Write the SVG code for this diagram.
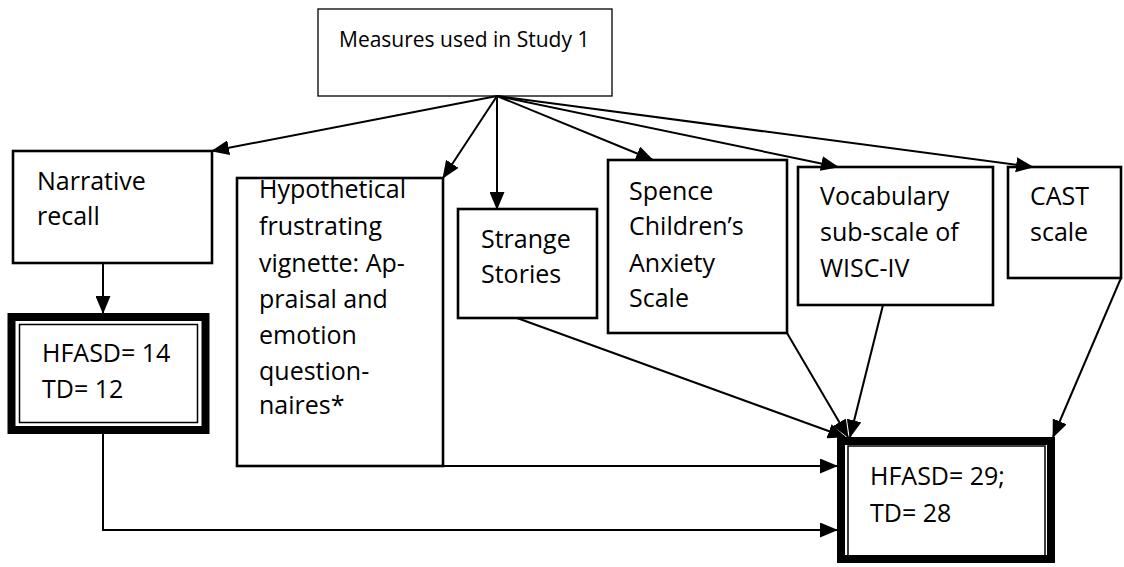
<svg xmlns="http://www.w3.org/2000/svg" width="1124" height="567" viewBox="0 0 1124 567">
<style>
.box{fill:#fff;stroke:#000;stroke-width:2.6}
.thin{fill:#fff;stroke:#000;stroke-width:1.3}
.thick{fill:#fff;stroke:#000;stroke-width:8}
.inner{fill:none;stroke:#000;stroke-width:1.5}
.t{font-family:"Open Sans","Liberation Sans",sans-serif;font-size:25px;fill:#000}
.c{fill:none;stroke:#000;stroke-width:2}
</style>
<defs>
<marker id="ah" markerUnits="userSpaceOnUse" markerWidth="18" markerHeight="15" viewBox="0 0 18 15" refX="17" refY="7.5" orient="auto">
<path d="M0,0 L18,7.5 L0,15 z" fill="#000"/>
</marker>
</defs>
<g id="n-measures"><rect class="thin" x="318" y="9" width="294" height="87"/><text class="t" x="339" y="47" style="font-size:21px">Measures used in Study 1</text></g>
<g id="n-narrative"><rect class="box" x="13" y="151" width="199" height="112"/><text class="t" x="37" y="190">Narrative</text><text class="t" x="37" y="225">recall</text></g>
<g id="n-hypo"><rect class="box" x="237" y="178" width="206" height="288"/>
<text class="t" x="259" y="198">Hypothetical</text><text class="t" x="259" y="235">frustrating</text><text class="t" x="259" y="272">vignette: Ap-</text><text class="t" x="259" y="308">praisal and</text><text class="t" x="259" y="344">emotion</text><text class="t" x="259" y="380">question-</text><text class="t" x="259" y="414">naires*</text></g>
<g id="n-strange"><rect class="box" x="458" y="209" width="139" height="109"/><text class="t" x="481" y="248">Strange</text><text class="t" x="481" y="283">Stories</text></g>
<g id="n-spence"><rect class="box" x="608" y="160" width="179" height="173"/><text class="t" x="629" y="200">Spence</text><text class="t" x="629" y="235">Children’s</text><text class="t" x="629" y="272">Anxiety</text><text class="t" x="629" y="307">Scale</text></g>
<g id="n-vocab"><rect class="box" x="798" y="167" width="195" height="138"/><text class="t" x="820" y="205">Vocabulary</text><text class="t" x="820" y="241">sub-scale of</text><text class="t" x="820" y="277">WISC-IV</text></g>
<g id="n-cast"><rect class="box" x="1008" y="167" width="113" height="111"/><text class="t" x="1030" y="205">CAST</text><text class="t" x="1030" y="241">scale</text></g>
<g id="n-sample1"><rect class="thick" x="11.5" y="317" width="194" height="113"/><rect class="inner" x="19.5" y="324.5" width="178" height="98"/><text class="t" x="42" y="362">HFASD= 14</text><text class="t" x="42" y="398">TD= 12</text></g>
<g id="n-sample2"><rect class="thick" x="841" y="441" width="210" height="118"/><rect class="inner" x="848" y="446" width="197" height="111"/><text class="t" x="870" y="485">HFASD= 29;</text><text class="t" x="870" y="522">TD= 28</text></g>
<g id="connectors">
<line class="c" x1="497" y1="96" x2="212" y2="151" marker-end="url(#ah)"/>
<line class="c" x1="497" y1="96" x2="443" y2="178" marker-end="url(#ah)"/>
<line class="c" x1="497" y1="96" x2="497" y2="209" marker-end="url(#ah)"/>
<line class="c" x1="497" y1="96" x2="653" y2="160" marker-end="url(#ah)"/>
<line class="c" x1="497" y1="96" x2="838" y2="167" marker-end="url(#ah)"/>
<line class="c" x1="497" y1="96" x2="1033" y2="167" marker-end="url(#ah)"/>
<line class="c" x1="103" y1="263" x2="103" y2="313" marker-end="url(#ah)"/>
<line class="c" x1="517" y1="318" x2="845" y2="437" marker-end="url(#ah)"/>
<line class="c" x1="787" y1="333" x2="848" y2="437" marker-end="url(#ah)"/>
<line class="c" x1="883" y1="305" x2="850" y2="437" marker-end="url(#ah)"/>
<line class="c" x1="1121" y1="278" x2="1053" y2="437" marker-end="url(#ah)"/>
<line class="c" x1="443" y1="466" x2="837" y2="466" marker-end="url(#ah)"/>
<polyline class="c" points="103,434 103,530 837,530" marker-end="url(#ah)"/>
</g>
</svg>
